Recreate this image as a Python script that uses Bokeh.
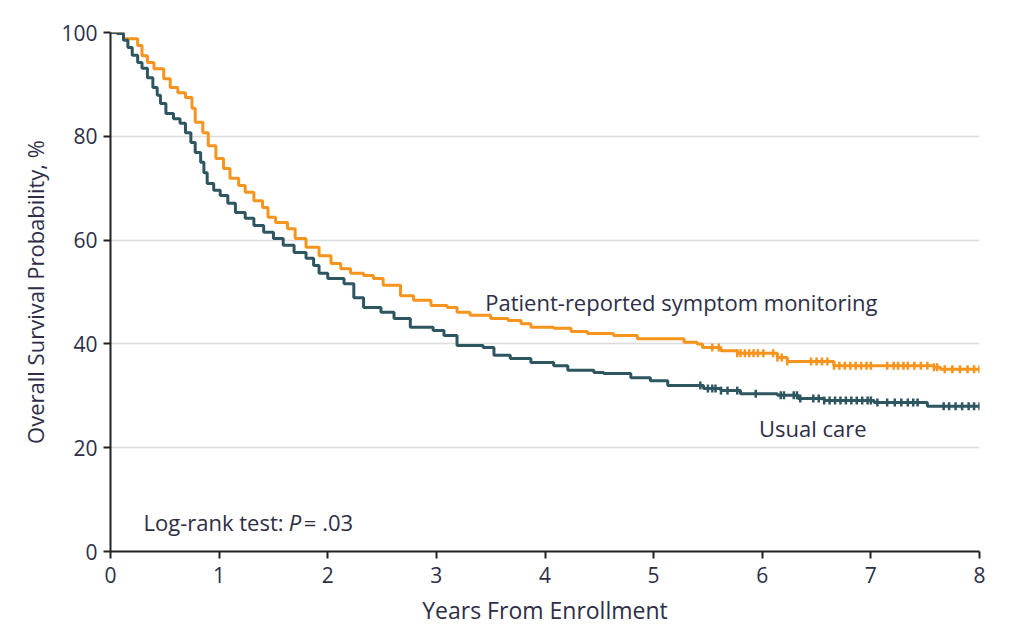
import math
import numpy as np
from bokeh.plotting import figure
from bokeh.models import Range1d, FixedTicker, Label
from bokeh.embed import file_html
from bokeh.resources import INLINE

# Patient-reported symptom monitoring (orange)
pro_t = [0, 0.12, 0.25, 0.29, 0.34, 0.40, 0.49, 0.55, 0.62, 0.69, 0.75, 0.78, 0.85, 0.90, 0.97,
         1.04, 1.10, 1.18, 1.24, 1.32, 1.40, 1.45, 1.52, 1.63, 1.70, 1.80, 1.92, 2.03, 2.12, 2.21,
         2.33, 2.42, 2.51, 2.67, 2.79, 2.95, 3.10, 3.19, 3.31, 3.50, 3.66, 3.78, 3.87, 4.08, 4.24,
         4.39, 4.63, 4.85, 5.28, 5.40, 5.45, 5.62, 5.77, 6.14, 6.23, 6.66, 7.58, 7.64, 8.0]
pro_s = [100, 98.8, 97.5, 95.5, 94.2, 93.0, 91.1, 89.4, 88.4, 87.5, 85.4, 82.7, 80.7, 78.2, 75.7,
         73.8, 71.9, 70.5, 69.2, 67.6, 66.3, 64.4, 63.4, 62.2, 60.3, 58.6, 57.0, 55.5, 54.5, 53.6,
         53.2, 52.6, 51.3, 49.3, 48.4, 47.4, 47.0, 46.1, 45.5, 44.9, 44.5, 43.9, 43.2, 43.0, 42.4,
         42.0, 41.6, 41.0, 40.3, 40.0, 39.3, 38.7, 38.2, 37.4, 36.6, 35.8, 35.5, 35.1, 35.1]
pro_cens = [5.54, 5.60, 5.77, 5.80, 5.84, 5.88, 5.92, 5.96, 6.01, 6.10, 6.14, 6.18, 6.23, 6.45,
            6.50, 6.55, 6.60, 6.66, 6.71, 6.76, 6.81, 6.86, 6.91, 6.96, 7.00, 7.15, 7.21, 7.25,
            7.30, 7.34, 7.40, 7.46, 7.52, 7.58, 7.61, 7.68, 7.75, 7.82, 7.89, 7.95, 8.0]

# Usual care (teal)
uc_t = [0, 0.06, 0.12, 0.16, 0.20, 0.25, 0.29, 0.34, 0.39, 0.43, 0.46, 0.51, 0.58, 0.64, 0.69,
        0.74, 0.78, 0.83, 0.86, 0.89, 0.95, 1.01, 1.08, 1.15, 1.24, 1.32, 1.41, 1.50, 1.59, 1.69,
        1.80, 1.87, 1.92, 2.00, 2.15, 2.24, 2.33, 2.49, 2.61, 2.76, 2.97, 3.07, 3.19, 3.43, 3.53,
        3.68, 3.87, 4.08, 4.21, 4.45, 4.54, 4.79, 4.97, 5.13, 5.46, 5.62, 5.80, 6.14, 6.33, 6.57,
        7.03, 7.52, 8.0]
uc_s = [100, 99.8, 98.5, 97.1, 95.6, 94.2, 93.1, 91.3, 89.4, 87.9, 86.3, 84.4, 83.4, 82.5, 80.7,
        78.8, 76.9, 75.0, 73.0, 70.9, 69.6, 68.6, 67.1, 65.3, 64.2, 62.8, 61.5, 60.3, 59.0, 57.6,
        56.5, 55.1, 53.6, 52.6, 51.6, 48.9, 47.0, 46.1, 44.9, 43.2, 42.6, 41.6, 39.7, 39.3, 37.8,
        37.2, 36.4, 35.8, 34.9, 34.5, 34.3, 33.5, 32.9, 32.0, 31.4, 31.0, 30.4, 30.1, 29.5, 29.1,
        28.7, 28.0, 28.0]
uc_cens = [5.43, 5.50, 5.54, 5.57, 5.62, 5.68, 5.77, 5.94, 6.17, 6.20, 6.29, 6.32, 6.35, 6.47,
           6.52, 6.57, 6.62, 6.67, 6.72, 6.77, 6.82, 6.87, 6.92, 6.97, 7.00, 7.06, 7.15, 7.22,
           7.28, 7.34, 7.39, 7.43, 7.67, 7.72, 7.78, 7.84, 7.90, 7.95, 8.0]

x_ticks = [0, 1, 2, 3, 4, 5, 6, 7, 8]
y_ticks = [0, 20, 40, 60, 80, 100]

ORANGE = "#F7941D"
TEAL = "#2D5661"
TXT = "#2e2e48"
FONT = "Open Sans"


def km_value(ts, ss, x):
    idx = np.searchsorted(np.array(ts), np.array(x), side="right") - 1
    return list(np.array(ss)[idx])


p = figure(frame_width=869, frame_height=519, output_backend="svg", toolbar_location=None,
           x_range=Range1d(0, 8), y_range=Range1d(0, 100),
           min_border_left=110, min_border_right=33, min_border_top=32, min_border_bottom=70)
p.outline_line_color = None
p.background_fill_color = "white"
p.border_fill_color = "white"

p.xgrid.grid_line_color = None
p.ygrid.grid_line_color = "#dcdcdc"
p.ygrid.grid_line_width = 1.5
p.ygrid.ticker = FixedTicker(ticks=[20, 40, 60, 80, 100])

for ax in (p.xaxis, p.yaxis):
    ax.axis_line_color = "#222222"
    ax.axis_line_width = 2
    ax.major_tick_line_color = "#222222"
    ax.major_tick_line_width = 2
    ax.major_tick_out = 7
    ax.major_tick_in = 0
    ax.minor_tick_line_color = None
    ax.major_label_text_font = FONT
    ax.major_label_text_font_size = "21px"
    ax.major_label_text_color = TXT
    ax.axis_label_text_font = FONT
    ax.axis_label_text_font_style = "normal"
    ax.axis_label_text_color = TXT

p.xaxis.axis_label_text_font_size = "23px"
p.yaxis.axis_label_text_font_size = "22px"
p.xaxis.ticker = FixedTicker(ticks=x_ticks)
p.yaxis.ticker = FixedTicker(ticks=y_ticks)
p.xaxis.axis_label = "Years From Enrollment"
p.yaxis.axis_label = "Overall Survival Probability, %"
p.xaxis.major_label_standoff = 8
p.yaxis.major_label_standoff = 6
p.xaxis.axis_label_standoff = 8
p.yaxis.axis_label_standoff = 8

p.step(pro_t, pro_s, mode="after", line_color=ORANGE, line_width=3)
p.step(uc_t, uc_s, mode="after", line_color=TEAL, line_width=3)

p.scatter(pro_cens, km_value(pro_t, pro_s, pro_cens), marker="dash", angle=math.pi / 2,
          size=8, line_color=ORANGE, line_width=2.5)
p.scatter(uc_cens, km_value(uc_t, uc_s, uc_cens), marker="dash", angle=math.pi / 2,
          size=8, line_color=TEAL, line_width=2.5)

lab = dict(text_font=FONT, text_font_size="22px", text_color=TXT, text_baseline="alphabetic")
p.add_layout(Label(x=3.45, y=48.0, text="Patient-reported symptom monitoring", **lab))
p.add_layout(Label(x=5.97, y=23.7, text="Usual care", **lab))
p.add_layout(Label(x=0.304, y=5.6, text="Log-rank test:", **lab))
p.add_layout(Label(x=1.64, y=5.6, text="P", text_font_style="italic", **lab))
p.add_layout(Label(x=1.78, y=5.6, text="= .03", **lab))

open("out.html", "w").write(file_html(p, INLINE))
